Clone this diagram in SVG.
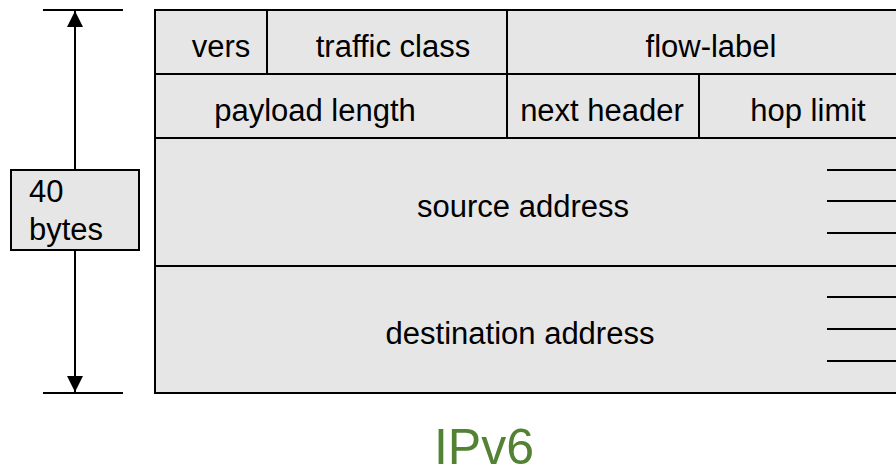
<svg xmlns="http://www.w3.org/2000/svg" width="896" height="469" viewBox="0 0 896 469">
<style>
.cell{fill:#e6e6e6;stroke:#000;stroke-width:2}
.t{font-family:"Liberation Sans",Arial,sans-serif;font-size:31px;fill:#000;text-anchor:middle}
.ln{stroke:#000;stroke-width:2;fill:none}
</style>
<defs>
<marker id="ah" viewBox="0 0 10 10" refX="10" refY="5" markerWidth="16" markerHeight="16" markerUnits="userSpaceOnUse" orient="auto"><path d="M0,0 L10,5 L0,10 z" fill="#000"/></marker>
</defs>
<g id="header">
<g id="vers"><rect class="cell" x="155" y="10" width="112" height="64"/><text class="t" x="221" y="57">vers</text></g>
<g id="traffic-class"><rect class="cell" x="267" y="10" width="240" height="64"/><text class="t" x="393" y="57">traffic class</text></g>
<g id="flow-label"><rect class="cell" x="507" y="10" width="400" height="64"/><text class="t" x="711" y="57">flow-label</text></g>
<g id="payload-length"><rect class="cell" x="155" y="74" width="352" height="64"/><text class="t" x="315" y="121">payload length</text></g>
<g id="next-header"><rect class="cell" x="507" y="74" width="192" height="64"/><text class="t" x="602" y="121">next header</text></g>
<g id="hop-limit"><rect class="cell" x="699" y="74" width="208" height="64"/><text class="t" x="808" y="121">hop limit</text></g>
<g id="source-address"><rect class="cell" x="155" y="138" width="752" height="128"/><text class="t" x="523" y="217">source address</text>
<path class="ln" d="M827,170H896M827,201H896M827,233H896"/></g>
<g id="destination-address"><rect class="cell" x="155" y="266" width="752" height="127"/><text class="t" x="520" y="344">destination address</text>
<path class="ln" d="M827,297H896M827,329H896M827,361H896"/></g>
</g>
<g id="connectors">
<path class="ln" d="M43,10H123M43,393H123"/>
<line class="ln" x1="75" y1="170" x2="75" y2="11" marker-end="url(#ah)"/>
<line class="ln" x1="75" y1="250" x2="75" y2="392" marker-end="url(#ah)"/>
</g>
<g id="size-label"><rect class="cell" x="11" y="170" width="128" height="80"/>
<text class="t" style="text-anchor:start" x="29" y="202">40</text>
<text class="t" style="text-anchor:start" x="29" y="240">bytes</text></g>
<text x="484" y="464" style="font-family:'Liberation Sans',Arial,sans-serif;font-size:50px;fill:#548235;text-anchor:middle">IPv6</text>
</svg>
